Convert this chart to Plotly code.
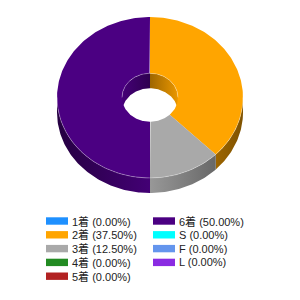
import numpy as np
import plotly.graph_objects as go

# ---- data ----
categories = ["1着", "2着", "3着", "4着", "5着", "6着", "S", "F", "L"]
counts = [0, 3, 1, 0, 0, 4, 0, 0, 0]
colors = ["#1E90FF", "#FFA500", "#A9A9A9", "#228B22", "#B22222",
          "#4B0082", "#00FFFF", "#6495ED", "#8A2BE2"]

# ---- geometry / style (pixel-space axes) ----
CX, CY = 150.0, 97.5
RX, RY = 93.0, 80.5
HRX = 28.0
HRY = HRX * RY / RX
DEPTH = 15.0


def hex2rgb(h):
    h = h.lstrip("#")
    return tuple(int(h[i:i + 2], 16) for i in (0, 2, 4))


def shade(h, f):
    r, g, b = hex2rgb(h)
    return "rgb(%d,%d,%d)" % (min(255, r * f), min(255, g * f), min(255, b * f))


def arc(a0, a1, rx, ry, dy=0.0):
    n = max(2, int(abs(a1 - a0)) + 1)
    t = np.radians(np.linspace(a0, a1, n))
    return list(CX + rx * np.sin(t)), list(CY - ry * np.cos(t) + dy)


total = float(sum(counts))
pcts = [c / total * 100 for c in counts]
starts, ends = [], []
acc = 0.0
for c in counts:
    a0 = acc / total * 360
    acc += c
    starts.append(a0)
    ends.append(acc / total * 360)

fig = go.Figure()


def add_poly(xs, ys, color=None, grad=None):
    kw = dict(x=xs + [xs[0]], y=ys + [ys[0]], mode="lines", fill="toself",
              line=dict(width=0), hoverinfo="skip", showlegend=False)
    if grad is not None:
        kw["fillgradient"] = dict(type="horizontal", colorscale=grad)
        kw["fillcolor"] = grad[0][1]
    else:
        kw["fillcolor"] = color
    fig.add_trace(go.Scatter(**kw))


def side_f(x):
    return 0.9 - 0.4 * abs(x - CX) / RX


def inner_f(x):
    return 0.62 + 0.3 * abs(x - CX) / HRX


# outer side walls (front half)
for i, c in enumerate(counts):
    if c == 0:
        continue
    lo, hi = max(starts[i], 90), min(ends[i], 270)
    if hi <= lo:
        continue
    x1, y1 = arc(lo, hi, RX, RY)
    x2, y2 = arc(hi, lo, RX, RY, DEPTH)
    xs, ys = x1 + x2, y1 + y2
    xmin, xmax = min(xs), max(xs)
    grad = [[0, shade(colors[i], side_f(xmin))], [1, shade(colors[i], side_f(xmax))]]
    add_poly(xs, ys, grad=grad)

# inner hole walls (back half)
for i, c in enumerate(counts):
    if c == 0:
        continue
    for (blo, bhi) in [(0, 90), (270, 360)]:
        lo, hi = max(starts[i], blo), min(ends[i], bhi)
        if hi <= lo:
            continue
        x1, y1 = arc(lo, hi, HRX, HRY)
        x2, y2 = arc(hi, lo, HRX, HRY, DEPTH)
        xs, ys = x1 + x2, y1 + y2
        xmin, xmax = min(xs), max(xs)
        grad = [[0, shade(colors[i], inner_f(xmin))], [1, shade(colors[i], inner_f(xmax))]]
        add_poly(xs, ys, grad=grad)

# top faces
for i, c in enumerate(counts):
    if c == 0:
        continue
    x1, y1 = arc(starts[i], ends[i], RX, RY)
    x2, y2 = arc(ends[i], starts[i], HRX, HRY)
    add_poly(x1 + x2, y1 + y2, color=colors[i])

# subtle highlight edges
hx, hy = arc(90, 270, RX, RY)
fig.add_trace(go.Scatter(x=hx, y=hy, mode="lines", line=dict(color="rgba(255,255,255,0.3)", width=1),
                         hoverinfo="skip", showlegend=False))
hx, hy = arc(-90, 90, HRX, HRY)
fig.add_trace(go.Scatter(x=hx, y=hy, mode="lines", line=dict(color="rgba(255,255,255,0.3)", width=1),
                         hoverinfo="skip", showlegend=False))

# ---- legend (manual, two columns) ----
shapes, annotations = [], []
for i, name in enumerate(categories):
    col, row = i // 5, i % 5
    sx = 46 + col * 107
    yc = 221 + row * 13.8
    shapes.append(dict(type="rect", xref="x", yref="y", x0=sx, x1=sx + 22, y0=yc - 3.7, y1=yc + 3.7,
                       fillcolor=colors[i], line=dict(width=0)))
    annotations.append(dict(xref="x", yref="y", x=sx + 26, y=yc, xanchor="left", yanchor="middle",
                            text="%s (%.2f%%)" % (name, pcts[i]), showarrow=False,
                            borderpad=0, borderwidth=0,
                            font=dict(size=11, color="#222222",
                                      family="Liberation Sans, Arial, Noto Sans CJK JP")))

fig.update_layout(
    width=300, height=300, autosize=False,
    margin=dict(l=0, r=0, t=0, b=0),
    paper_bgcolor="white", plot_bgcolor="white",
    xaxis=dict(range=[0, 300], visible=False, fixedrange=True),
    yaxis=dict(range=[300, 0], visible=False, fixedrange=True),
    shapes=shapes, annotations=annotations, showlegend=False,
)
fig.write_html("out.html")
